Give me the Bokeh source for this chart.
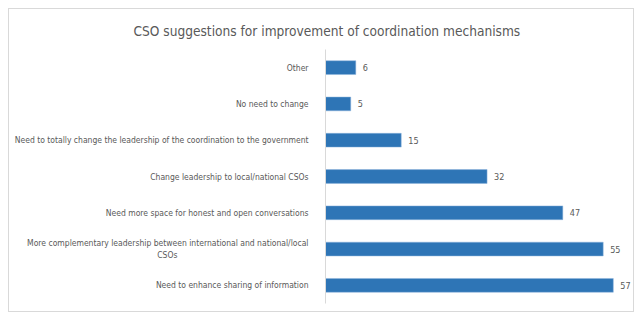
from bokeh.plotting import figure
from bokeh.models import ColumnDataSource, FactorRange, Range1d, LabelSet
from bokeh.core.properties import value
from bokeh.embed import file_html
from bokeh.resources import INLINE

title_text = "CSO suggestions for improvement of coordination mechanisms"
categories = [
    "Need to enhance sharing of information",
    "More complementary leadership between international and national/local\nCSOs" + "\u00a0" * 54,
    "Need more space for honest and open conversations",
    "Change leadership to local/national CSOs",
    "Need to totally change the leadership of the coordination to the government",
    "No need to change",
    "Other",
]
counts = [57, 55, 47, 32, 15, 5, 6]
x_max = 61

FONT = "'DejaVu Sans Condensed', 'Roboto'"
GRAY = "#595959"

src = ColumnDataSource(dict(cat=categories, val=counts, txt=[str(v) for v in counts]))

p = figure(width=626, height=304, y_range=FactorRange(factors=categories),
           x_range=Range1d(0, x_max), output_backend="svg", toolbar_location=None,
           min_border_left=316, min_border_right=2, min_border_top=39, min_border_bottom=10,
           styles={"border": "1px solid #d9d9d9", "margin-left": "8px", "margin-top": "8px"})
p.outline_line_color = None
p.xgrid.visible = False
p.ygrid.visible = False
p.xaxis.visible = False

p.title.text = title_text
p.title.align = "left"
p.title.offset = -192
p.title.standoff = 22
p.title.text_font = FONT
p.title.text_font_size = "13.6px"
p.title.text_font_style = "normal"
p.title.text_color = GRAY

p.hbar(y="cat", right="val", left=0, height=0.38, source=src,
       fill_color="#2e75b6", line_color="#8fb4dc", line_width=0.5)

ax = p.yaxis[0]
ax.axis_line_color = "#d9d9d9"
ax.major_tick_line_color = None
ax.minor_tick_line_color = None
ax.major_label_text_font = FONT
ax.major_label_text_font_size = "8.5px"
ax.major_label_text_color = GRAY
ax.major_label_standoff = 11

labels = LabelSet(x="val", y="cat", text="txt", source=src, x_offset=7,
                  text_baseline="middle", text_font=value(FONT),
                  text_font_size="9px", text_color=GRAY)
p.add_layout(labels)

open("out.html", "w").write(file_html(p, INLINE))
